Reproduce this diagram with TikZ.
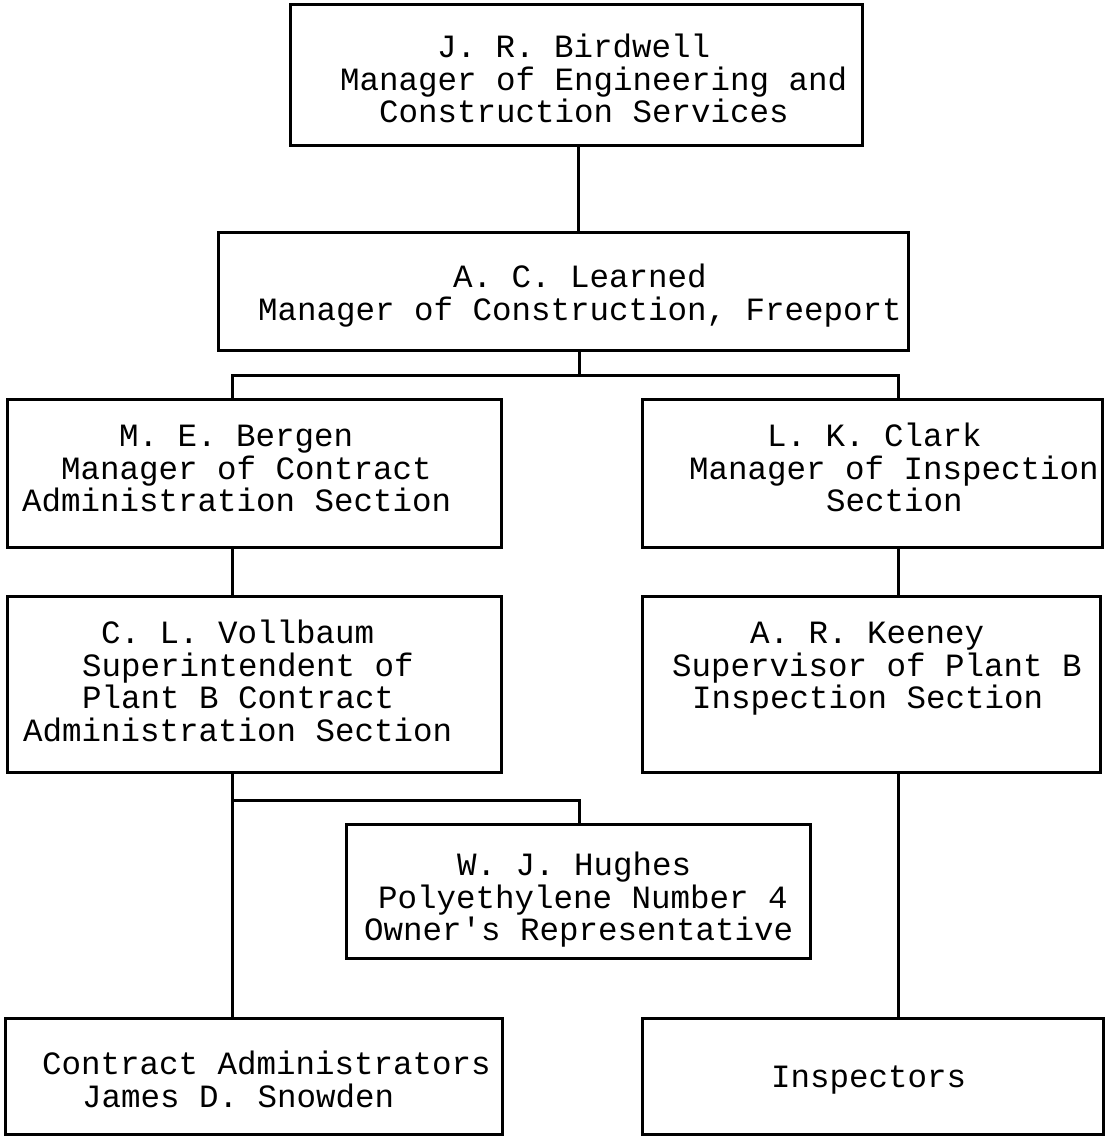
\documentclass[tikz,border=0pt]{standalone}
\usepackage{fontspec}
\setmonofont{Liberation Mono}
\begin{document}
\begin{tikzpicture}[x=1pt,y=-1pt,
  box/.style={draw, line width=3pt, inner sep=0pt, line join=miter},
  txt/.style={anchor=base west, inner sep=0pt, align=left,
    font=\ttfamily\fontsize{32.5pt}{32.6pt}\selectfont},
  conn/.style={line width=3pt}]
\useasboundingbox (0,0) rectangle (1106,1137);
\newcommand{\bx}[5]{\node[box, minimum width={#4-#2}, minimum height={#5-#3}] (#1) at ({(#2+#4)/2},{(#3+#5)/2}) {};}
% boxes
\bx{b1}{290}{5}{862}{145}
\bx{b2}{218}{232}{908}{350}
\bx{b3}{7}{399}{501}{547}
\bx{b4}{642}{399}{1102}{547}
\bx{b5}{7}{596}{501}{772}
\bx{b6}{642}{596}{1100}{772}
\bx{b7}{346}{824}{810}{958}
\bx{b8}{5}{1018}{502}{1134}
\bx{b9}{642}{1018}{1103}{1134}
% texts (anchored at the baseline of the last line)
\node[txt] (t1) at (340,122.7) {\hspace*{97pt}J. R. Birdwell\\Manager of Engineering and\\\hspace*{39pt}Construction Services};
\node[txt] (t2) at (258,320.1) {\hspace*{195pt}A. C. Learned\\Manager of Construction, Freeport};
\node[txt] (t3) at (22,511.7) {\hspace*{97pt}M. E. Bergen\\\hspace*{39pt}Manager of Contract\\Administration Section};
\node[txt] (t4) at (689,511.7) {\hspace*{78pt}L. K. Clark\\Manager of Inspection\\\hspace*{137pt}Section};
\node[txt] (t5) at (23,741.3) {\hspace*{78pt}C. L. Vollbaum\\\hspace*{59pt}Superintendent of\\\hspace*{59pt}Plant B Contract\\Administration Section};
\node[txt] (t6) at (672,708.7) {\hspace*{78pt}A. R. Keeney\\Supervisor of Plant B\\\hspace*{20pt}Inspection Section};
\node[txt] (t7) at (364,940.7) {\hspace*{93pt}W. J. Hughes\\\hspace*{14pt}Polyethylene Number 4\\Owner's Representative};
\node[txt] (t8) at (42,1107.1) {Contract Administrators\\\hspace*{40pt}James D. Snowden};
\node[txt] (t9) at (771,1087.5) {Inspectors};
% connectors
\coordinate (hM) at (579,375);
\coordinate (hL) at (232,375);
\coordinate (hR) at (898,375);
\coordinate (vL) at (232,800);
\coordinate (vM) at (579,800);
\coordinate (top) at (578,0);
\draw[conn] (top |- b1.south) -- (top |- b2.north);
\draw[conn] (hM |- b2.south) -- (hM);
\draw[conn] (hL |- b3.north) -- (hL) -- (hR) -- (hR |- b4.north);
\draw[conn] (hL |- b3.south) -- (hL |- b5.north);
\draw[conn] (hR |- b4.south) -- (hR |- b6.north);
\draw[conn] (vL |- b5.south) -- (vL |- b8.north);
\draw[conn] (vL) -- (vM) -- (vM |- b7.north);
\draw[conn] (hR |- b6.south) -- (hR |- b9.north);
\end{tikzpicture}
\end{document}
